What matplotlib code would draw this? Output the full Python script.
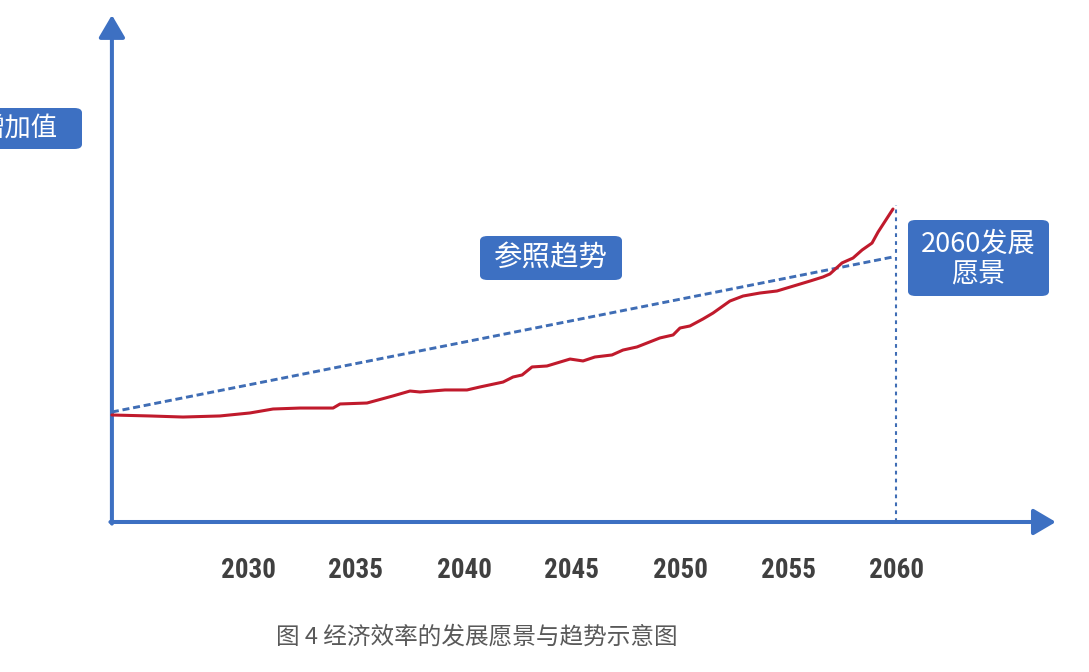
import matplotlib
matplotlib.use("Agg")
import matplotlib.pyplot as plt
from matplotlib.patches import FancyBboxPatch

plt.rcParams['font.family'] = ['Noto Sans CJK SC', 'DejaVu Sans']

# red curve: economic efficiency index (start = 100)
years = [2023.70, 2025.46, 2026.99, 2028.70, 2030.09, 2031.16, 2032.41, 2033.94,
         2034.26, 2035.51, 2036.71, 2037.50, 2037.96, 2039.12, 2040.14, 2040.74,
         2041.81, 2042.27, 2042.69, 2043.15, 2043.84, 2044.91, 2045.51, 2046.06,
         2046.85, 2047.36, 2048.01, 2049.07, 2049.68, 2050.00, 2050.46, 2051.06,
         2051.53, 2052.31, 2052.92, 2053.70, 2054.49, 2054.95, 2055.56, 2056.02,
         2056.62, 2056.94, 2057.50, 2058.01, 2058.43, 2058.89, 2059.17, 2059.86]
values = [100.0, 99.1, 98.1, 99.1, 101.9, 105.6, 106.5, 106.5,
          110.3, 111.2, 117.8, 122.4, 121.5, 123.4, 123.4, 126.2,
          130.8, 135.5, 137.4, 144.9, 145.8, 152.3, 150.5, 154.2,
          156.1, 160.7, 163.6, 172.0, 174.8, 181.3, 183.2, 189.7,
          195.3, 206.5, 211.2, 214.0, 215.9, 218.7, 222.4, 225.2,
          229.0, 231.8, 242.1, 246.7, 254.2, 260.7, 271.0, 292.5]

# reference trend (straight dashed line)
trend_years = [2023.70, 2059.86]
trend_values = [102.8, 247.7]

vision_year = 2060
vision_top = 296.3

tick_years = [2030, 2035, 2040, 2045, 2050, 2055, 2060]

y_label = "增加值"
trend_label = "参照趋势"
vision_label = "2060发展\n愿景"
caption = "图 4 经济效率的发展愿景与趋势示意图"

W, H = 1089, 672
blue = '#3D70C2'
red = '#C01A2C'
dash_blue = '#3F6DB5'

fig = plt.figure(figsize=(W / 100, H / 100), dpi=100)
ax = fig.add_axes([0, 0, 1, 1])
ax.set_xlim(2018.519, 2068.935)
ax.set_ylim(-140.19, 487.85)
ax.axis('off')


def fx(px):
    return px / W


def fy(py):
    return 1 - py / H


# axes with arrows
arrow = dict(arrowstyle='-|>,head_length=0.68,head_width=0.4', lw=2.9,
             color=blue, shrinkA=0, shrinkB=0, mutation_scale=20)
ax.annotate('', xy=(years[0], 473.8), xytext=(years[0], -1.5), arrowprops=arrow)
ax.annotate('', xy=(2067.4, 0), xytext=(years[0] - 0.07, 0), arrowprops=arrow)

ax.plot(trend_years, trend_values, color=dash_blue, lw=2.1,
        dashes=(2.4, 1.3), zorder=3)
ax.plot([vision_year, vision_year], [0, vision_top], color=dash_blue, lw=1.5,
        dashes=(1.8, 2.0), zorder=3)
ax.plot(years, values, color=red, lw=2.2, solid_joinstyle='round',
        solid_capstyle='round', zorder=4)

for yr in tick_years:
    ax.text(yr, -44.9, str(yr), ha='center', va='center', fontsize=19.5,
            fontweight='bold', fontstretch='condensed', color='#404040',
            family=['DejaVu Sans Condensed', 'Liberation Sans Narrow',
                    'Roboto Condensed', 'Noto Sans CJK SC'])


def box(x0, y0, x1, y1):
    p = FancyBboxPatch((fx(x0), fy(y1)), fx(x1) - fx(x0), fy(y0) - fy(y1),
                       boxstyle='round,pad=0,rounding_size=0.007',
                       transform=fig.transFigure, facecolor=blue,
                       edgecolor='none', zorder=5)
    fig.patches.append(p)


# label box on the left is cut by the picture edge, as in the source
box(-20, 108, 82, 149)
fig.text(fx(58.5), fy(128.5), y_label, ha='right', va='center', fontsize=19,
         color='white', zorder=6)

box(480, 236, 622, 280)
fig.text(fx(551), fy(258), trend_label, ha='center', va='center', fontsize=20.5,
         color='white', zorder=6)

box(908, 220, 1049, 296)
fig.text(fx(978.5), fy(259), vision_label, ha='center', va='center',
         fontsize=19.5, color='white', linespacing=1.1, zorder=6)

fig.text(fx(477), fy(637), caption, ha='center', va='center', fontsize=17,
         color='#595959')

fig.savefig('out.png', dpi=100)
